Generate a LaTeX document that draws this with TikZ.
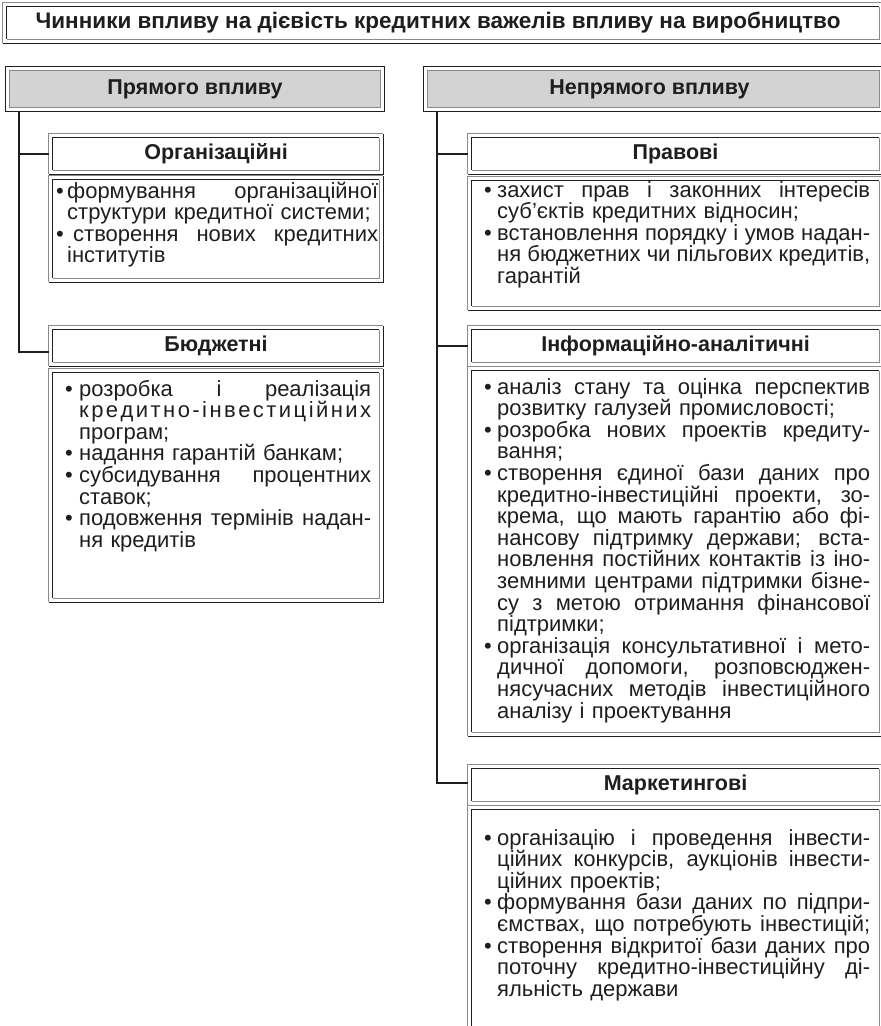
\documentclass[tikz,border=0pt]{standalone}
\usepackage{fontspec}
\setmainfont{Liberation Sans}
\usetikzlibrary{backgrounds}
\lineskiplimit=-100pt
\definecolor{dk}{HTML}{1E1E1E}
\definecolor{gr}{HTML}{8A8A8A}
\definecolor{hdfill}{HTML}{D3D3D3}
\newlength\bi
\newcommand\jbox[1]{\hbox to\dimexpr\linewidth-\bi\relax{\spaceskip=.278em plus 1fil minus .1em\relax #1}}
\newcommand\bulJ[1]{\noindent\hbox to\bi{•\hss}\jbox{#1}\par}
\newcommand\bulL[1]{\noindent\hbox to\bi{•\hss}#1\par}
\newcommand\conJ[1]{\noindent\hspace*{\bi}\jbox{#1}\par}
\newcommand\conL[1]{\noindent\hspace*{\bi}#1\par}
\def\spreadit#1{\spreaditA#1\relax}
\def\spreaditA#1#2{#1\ifx\relax#2\else\hfil\expandafter\spreaditA\expandafter#2\fi}
\newcommand\ridgeframe[1]{%
  \draw[gr,lw] (#1.south west) |- (#1.north east);
  \draw[dk,lw] (#1.south west) -| (#1.north east);
  \draw[dk,lw] ([xshift=4pt,yshift=4pt]#1.south west) |- ([xshift=-4pt,yshift=-4pt]#1.north east);
  \draw[gr,lw] ([xshift=4pt,yshift=4pt]#1.south west) -| ([xshift=-4pt,yshift=-4pt]#1.north east);
}
\newcommand\headframe[1]{%
  \begin{pgfonlayer}{background}
  \fill[hdfill] ([xshift=4pt,yshift=4pt]#1.south west) rectangle ([xshift=-4pt,yshift=-4pt]#1.north east);
  \end{pgfonlayer}
  \draw[dk,lw] (#1.south west) rectangle (#1.north east);
  \draw[gr,lw] ([xshift=4pt,yshift=4pt]#1.south west) rectangle ([xshift=-4pt,yshift=-4pt]#1.north east);
}
\begin{document}
\begin{tikzpicture}[x=1pt,y=-1pt,
  lw/.style={line width=1.2pt},
  bx/.style={draw=none,inner sep=0pt,font=\fontsize{21.5}{24}\selectfont\bfseries,text=dk},
  txt/.style={anchor=base west,inner sep=0pt,font=\fontsize{22}{21.6}\selectfont,text=dk},
  conn/.style={dk,line width=1.4pt}]
\useasboundingbox (0,0) rectangle (881,1026);

% title
\node[bx,minimum width=880pt,minimum height=40pt,font=\fontsize{22.5}{26}\selectfont\bfseries] (title) at (443,23) {\hspace*{-10pt}Чинники впливу на дієвість кредитних важелів впливу на виробництво};
\ridgeframe{title}

% column headers
\node[bx,minimum width=378pt,minimum height=44pt] (lh) at (195,89) {Прямого впливу};
\headframe{lh}
\node[bx,minimum width=459pt,minimum height=44pt] (rh) at (653.5,89) {\hspace*{-8pt}Непрямого впливу};
\headframe{rh}

% left column
\node[bx,minimum width=334pt,minimum height=40pt] (org) at (216,154) {Організаційні};
\ridgeframe{org}
\node[bx,minimum width=334pt,minimum height=106pt] (orgC) at (216,229) {};
\ridgeframe{orgC}
\node[txt,text width=322pt] (orgT) at (56,198) {\setlength\bi{11pt}%
\bulJ{формування організаційної}
\conL{структури кредитної системи;}
\bulJ{\hspace*{6pt}створення нових кредитних}
\conL{інститутів}};

\node[bx,minimum width=334pt,minimum height=40pt] (bud) at (216,346) {Бюджетні};
\ridgeframe{bud}
\node[bx,minimum width=334pt,minimum height=233pt] (budC) at (216,485.5) {};
\ridgeframe{budC}
\node[txt,text width=306pt] (budT) at (65,396) {\setlength\bi{14pt}%
\bulJ{розробка і реалізація}
\conJ{\spreadit{кредитно-інвестиційних}}
\conL{програм;}
\bulL{надання гарантій банкам;}
\bulJ{субсидування процентних}
\conL{ставок;}
\bulJ{подовження термінів надан-}
\conL{ня кредитів}};

% right column
\node[bx,minimum width=415pt,minimum height=40pt] (prav) at (675.5,154) {Правові};
\ridgeframe{prav}
\node[bx,minimum width=415pt,minimum height=133pt] (pravC) at (675.5,243.5) {};
\ridgeframe{pravC}
\node[txt,text width=386pt] (pravT) at (484,197) {\setlength\bi{13pt}%
\bulJ{захист прав і законних інтересів}
\conL{суб’єктів кредитних відносин;}
\bulJ{встановлення порядку і умов надан-}
\conJ{ня бюджетних чи пільгових кредитів,}
\conL{гарантій}};

\node[bx,minimum width=415pt,minimum height=40pt] (inf) at (675.5,346) {Інформаційно-аналітичні};
\ridgeframe{inf}
\node[bx,minimum width=415pt,minimum height=369pt] (infC) at (675.5,551.5) {};
\ridgeframe{infC}
\node[txt,text width=386pt] (infT) at (484,394) {\setlength\bi{13pt}%
\bulJ{аналіз стану та оцінка перспектив}
\conL{розвитку галузей промисловості;}
\bulJ{розробка нових проектів кредиту-}
\conL{вання;}
\bulJ{створення єдиної бази даних про}
\conJ{кредитно-інвестиційні проекти, зо-}
\conJ{крема, що мають гарантію або фі-}
\conJ{нансову підтримку держави; вста-}
\conJ{новлення постійних контактів із іно-}
\conJ{земними центрами підтримки бізне-}
\conJ{су з метою отримання фінансової}
\conL{підтримки;}
\bulJ{організація консультативної і мето-}
\conJ{дичної допомоги, розповсюджен-}
\conJ{нясучасних методів інвестиційного}
\conL{аналізу і проектування}};

\node[bx,minimum width=415pt,minimum height=40pt] (mark) at (675.5,785) {Маркетингові};
\ridgeframe{mark}
\node[bx,minimum width=415pt,minimum height=224pt] (markC) at (675.5,918) {};
\ridgeframe{markC}
\node[txt,text width=386pt] (markT) at (484,845) {\setlength\bi{13pt}%
\bulJ{організацію і проведення інвести-}
\conJ{ційних конкурсів, аукціонів інвести-}
\conL{ційних проектів;}
\bulJ{формування бази даних по підпри-}
\conJ{ємствах, що потребують інвестицій;}
\bulJ{створення відкритої бази даних про}
\conJ{поточну кредитно-інвестиційну ді-}
\conL{яльність держави}};

% connectors
\draw[conn] ([xshift=13pt]lh.south west) |- (org.west);
\draw[conn] ([xshift=13pt]lh.south west) |- ([yshift=-6pt]bud.west);
\draw[conn] ([xshift=13pt]rh.south west) |- (prav.west);
\draw[conn] ([xshift=13pt]rh.south west) |- (inf.west);
\draw[conn] ([xshift=13pt]rh.south west) |- ([yshift=2pt]mark.west);
\end{tikzpicture}
\end{document}
